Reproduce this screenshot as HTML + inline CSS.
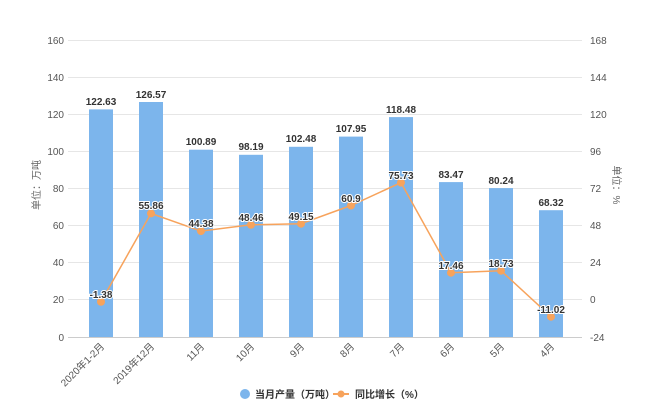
<!DOCTYPE html>
<html><head><meta charset="utf-8"><style>
body{margin:0;background:#fff}
svg{display:block;font-family:"Liberation Sans","Noto Sans CJK SC",sans-serif}
</style></head><body>
<svg width="650" height="420" viewBox="0 0 650 420">
<g stroke="#e6e6e6" stroke-width="1">
<line x1="68" x2="582" y1="40.5" y2="40.5"/><line x1="68" x2="582" y1="77.5" y2="77.5"/>
<line x1="68" x2="582" y1="114.5" y2="114.5"/><line x1="68" x2="582" y1="151.5" y2="151.5"/>
<line x1="68" x2="582" y1="188.5" y2="188.5"/><line x1="68" x2="582" y1="225.5" y2="225.5"/>
<line x1="68" x2="582" y1="262.5" y2="262.5"/><line x1="68" x2="582" y1="299.5" y2="299.5"/>
</g>
<line x1="68" x2="582" y1="337.5" y2="337.5" stroke="#ccc"/>
<g font-size="10" fill="#555" text-anchor="end">
<text x="64" y="44">160</text><text x="64" y="81">140</text><text x="64" y="118">120</text>
<text x="64" y="155">100</text><text x="64" y="192">80</text><text x="64" y="229">60</text>
<text x="64" y="266">40</text><text x="64" y="303">20</text><text x="64" y="341">0</text>
</g>
<g font-size="10" fill="#555" text-anchor="start">
<text x="590" y="44">168</text><text x="590" y="81">144</text><text x="590" y="118">120</text>
<text x="590" y="155">96</text><text x="590" y="192">72</text><text x="590" y="229">48</text>
<text x="590" y="266">24</text><text x="590" y="303">0</text><text x="590" y="341">-24</text>
</g>
<text transform="translate(40,185) rotate(-90)" font-size="10" fill="#666" text-anchor="middle">单位：万吨</text>
<text transform="translate(613,185) rotate(90)" font-size="10" fill="#666" text-anchor="middle">单位：%</text>
<g fill="#7cb5ec">
<rect x="89" y="109.4" width="24" height="227.6"/>
<rect x="139" y="102" width="24" height="235"/>
<rect x="189" y="149.7" width="24" height="187.3"/>
<rect x="239" y="154.8" width="24" height="182.2"/>
<rect x="289" y="146.8" width="24" height="190.2"/>
<rect x="339" y="136.6" width="24" height="200.4"/>
<rect x="389" y="117.1" width="24" height="219.9"/>
<rect x="439" y="182.1" width="24" height="154.9"/>
<rect x="489" y="188.1" width="24" height="148.9"/>
<rect x="539" y="210.2" width="24" height="126.8"/>
</g>
<g font-size="10" font-weight="bold" fill="#333" text-anchor="middle">
<text x="101" y="105">122.63</text><text x="151" y="98">126.57</text><text x="201" y="145">100.89</text>
<text x="251" y="150">98.19</text><text x="301" y="142">102.48</text><text x="351" y="132">107.95</text>
<text x="401" y="113">118.48</text><text x="451" y="178">83.47</text><text x="501" y="184">80.24</text>
<text x="551" y="206">68.32</text>
</g>
<polyline fill="none" stroke="#f7a35c" stroke-width="1.5" points="101,301.8 151,213.4 201,231.1 251,224.8 301,223.7 351,205.5 401,182.6 451,272.7 501,270.7 551,316.7"/>
<g fill="#f7a35c">
<circle cx="101" cy="301.8" r="4"/><circle cx="151" cy="213.4" r="4"/><circle cx="201" cy="231.1" r="4"/>
<circle cx="251" cy="224.8" r="4"/><circle cx="301" cy="223.7" r="4"/><circle cx="351" cy="205.5" r="4"/>
<circle cx="401" cy="182.6" r="4"/><circle cx="451" cy="272.7" r="4"/><circle cx="501" cy="270.7" r="4"/>
<circle cx="551" cy="316.7" r="4"/>
</g>
<g font-size="10" font-weight="bold" fill="#333" text-anchor="middle" stroke="#fff" stroke-width="2" paint-order="stroke">
<text x="101" y="298">-1.38</text><text x="151" y="209">55.86</text><text x="201" y="227">44.38</text>
<text x="251" y="221">48.46</text><text x="301" y="220">49.15</text><text x="351" y="202">60.9</text>
<text x="401" y="179">75.73</text><text x="451" y="269">17.46</text><text x="501" y="267">18.73</text>
<text x="551" y="313">-11.02</text>
</g>
<g font-size="10" fill="#555" text-anchor="end">
<text transform="translate(105,347) rotate(-45)">2020年1-2月</text>
<text transform="translate(155,347) rotate(-45)">2019年12月</text>
<text transform="translate(205,347) rotate(-45)">11月</text>
<text transform="translate(255,347) rotate(-45)">10月</text>
<text transform="translate(305,347) rotate(-45)">9月</text>
<text transform="translate(355,347) rotate(-45)">8月</text>
<text transform="translate(405,347) rotate(-45)">7月</text>
<text transform="translate(455,347) rotate(-45)">6月</text>
<text transform="translate(505,347) rotate(-45)">5月</text>
<text transform="translate(555,347) rotate(-45)">4月</text>
</g>
<circle cx="245" cy="394" r="5" fill="#7cb5ec"/>
<text x="255" y="398" font-size="10" font-weight="bold" fill="#333">当月产量（万吨）</text>
<line x1="333" x2="349" y1="394" y2="394" stroke="#f7a35c" stroke-width="2"/>
<circle cx="341" cy="394" r="3.5" fill="#f7a35c"/>
<text x="355" y="398" font-size="10" font-weight="bold" fill="#333">同比增长（%）</text>
</svg>
</body></html>
